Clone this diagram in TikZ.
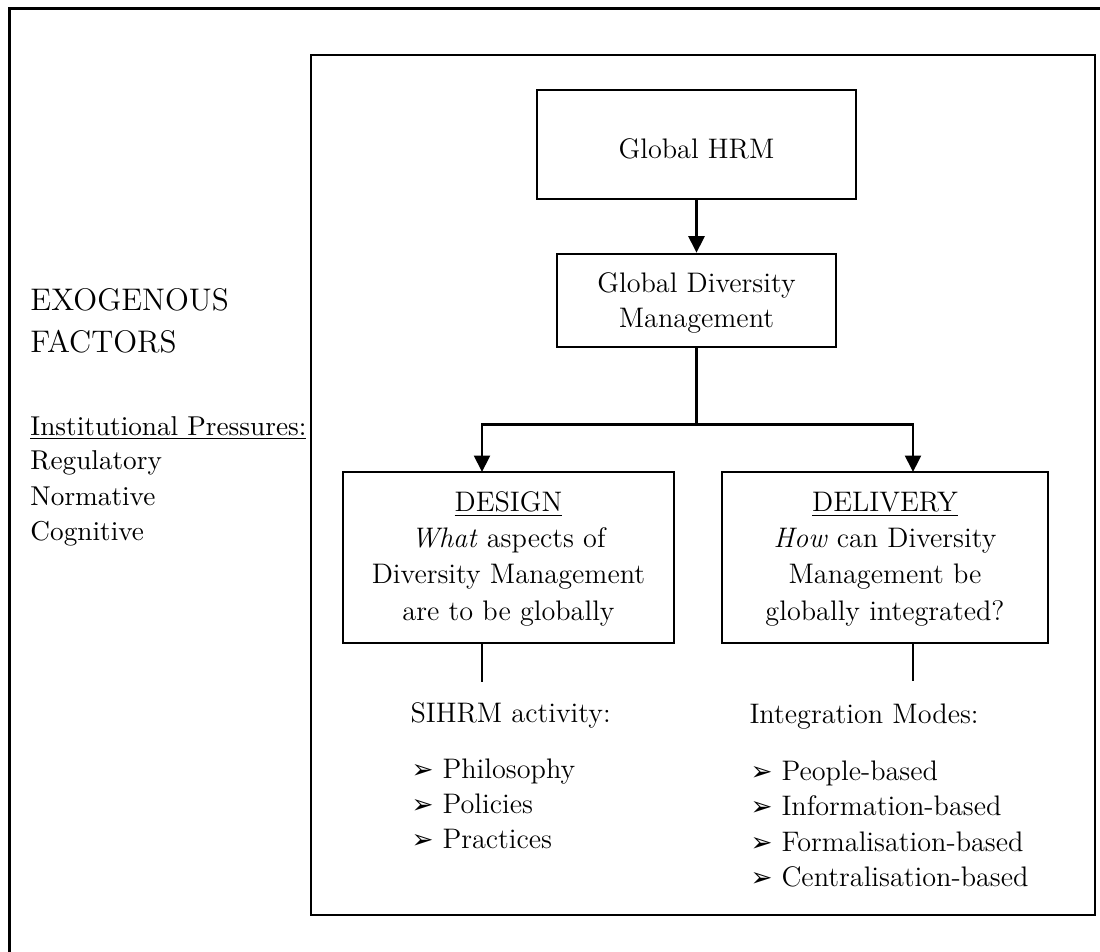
\documentclass[tikz,border=0pt]{standalone}
\usepackage{fontspec}
\newfontfamily\dingfont{DejaVu Sans}
\usetikzlibrary{arrows.meta,fit}
\begin{document}
\begin{tikzpicture}[x=0.4pt,y=-0.4pt,
  body/.style={inner sep=0pt,font=\fontsize{11.3pt}{14.5pt}\selectfont},
  lt/.style={body,anchor=base west},
  ct/.style={body,anchor=base},
  side/.style={inner sep=0pt,anchor=base west,font=\fontsize{10.9pt}{14pt}\selectfont},
  big/.style={inner sep=0pt,anchor=base west,font=\fontsize{12.5pt}{15pt}\selectfont},
  box/.style={draw,line width=1pt,inner sep=0pt,rectangle,fit={#1}},
  conn/.style={line width=0.85pt},
  arr/.style={conn,-{Triangle[width=6.4pt,length=6.6pt]}},
  stem/.style={line width=0.7pt}]
\useasboundingbox (0,0) rectangle (1100,952);
\clip (0,0) rectangle (1100,952);
\newcommand\arb{{\dingfont\fontsize{10.5pt}{12pt}\selectfont ➢}}
% outer frame (right and bottom sides lie beyond the picture)
\node[draw,line width=1.2pt,inner sep=0pt,fit={(9,9) (1120,975)}] (outer) {};
% inner frame
\node[box={(311,55) (1095,915)},line width=1pt] (inner) {};
% boxes
\node[box={(537,90) (856,199)}] (hrm) {};
\node[box={(557,254) (836,347)}] (gdm) {};
\node[box={(343,472) (674,643)}] (design) {};
\node[box={(722,472) (1048,643)}] (delivery) {};
% connector points
\coordinate (split) at (696.5,424.5);
\coordinate (dtop) at (482,472);
\coordinate (vtop) at (913,472);
\coordinate (dstem) at (482,682);
\coordinate (vstem) at (913,681);
\draw[arr] (hrm.south) -- (gdm.north);
\draw[conn] (gdm.south) -- (split);
\draw[arr] (split) -| (dtop);
\draw[arr] (split) -| (vtop);
\draw[stem] (dtop |- design.south) -- (dstem);
\draw[stem] (vtop |- delivery.south) -- (vstem);
% box texts
\node[ct] (t1) at (696.5,159) {Global HRM};
\node[ct] (t2) at (696.5,293) {Global Diversity};
\node[ct] (t3) at (696.5,328) {Management};
\node[ct] (d1) at (508.5,511) {\underline{DESIGN}};
\node[ct] (d2) at (508.5,547) {\textit{What} aspects of};
\node[ct] (d3) at (508.5,583) {Diversity Management};
\node[ct] (d4) at (508.5,620) {are to be globally};
\node[ct] (v1) at (885,511) {\underline{DELIVERY}};
\node[ct] (v2) at (885,547) {\textit{How} can Diversity};
\node[ct] (v3) at (885,583) {Management be};
\node[ct] (v4) at (885,620) {globally integrated?};
% left texts
\node[big] (e1) at (30,311) {EXOGENOUS};
\node[big] (e2) at (30,353) {FACTORS};
\node[side] (e3) at (30,435) {\underline{Institutional Pressures:}};
\node[side] (e4) at (30,470) {Regulatory};
\node[side] (e5) at (30,505) {Normative};
\node[side] (e6) at (30,540) {Cognitive};
% lists
\node[lt] (s0) at (410,722) {SIHRM activity:};
\node[lt] (sb1) at (411,778) {\arb};
\node[lt] (s1) at (442,778) {Philosophy};
\node[lt] (sb2) at (411,813) {\arb};
\node[lt] (s2) at (442,813) {Policies};
\node[lt] (sb3) at (411,848) {\arb};
\node[lt] (s3) at (442,848) {Practices};
\node[lt] (m0) at (749,723) {Integration Modes:};
\node[lt] (mb1) at (750,780) {\arb};
\node[lt] (m1) at (781,780) {People-based};
\node[lt] (mb2) at (750,815) {\arb};
\node[lt] (m2) at (781,815) {Information-based};
\node[lt] (mb3) at (750,851) {\arb};
\node[lt] (m3) at (781,851) {Formalisation-based};
\node[lt] (mb4) at (750,886) {\arb};
\node[lt] (m4) at (781,886) {Centralisation-based};
\end{tikzpicture}
\end{document}
